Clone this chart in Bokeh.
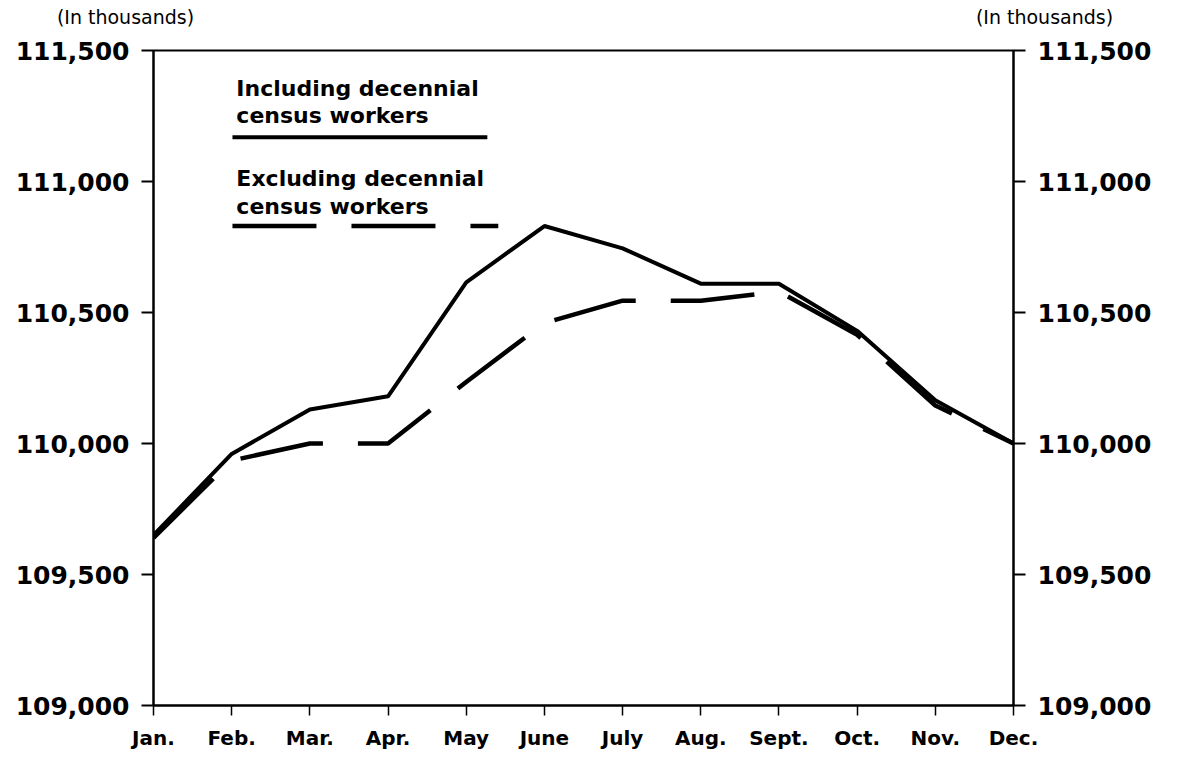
from bokeh.plotting import figure
from bokeh.models import (Range1d, LinearAxis, FixedTicker, NumeralTickFormatter, Label)
from bokeh.embed import file_html
from bokeh.resources import INLINE

months = ["Jan.", "Feb.", "Mar.", "Apr.", "May", "June", "July", "Aug.", "Sept.", "Oct.", "Nov.", "Dec."]
including = [109650, 109960, 110130, 110180, 110615, 110830, 110745, 110610, 110610, 110430, 110165, 110000]
excluding = [109640, 109935, 110000, 110000, 110235, 110460, 110545, 110545, 110580, 110415, 110145, 110000]
y_ticks = [109000, 109500, 110000, 110500, 111000, 111500]

x = list(range(len(months)))

W, H = 1165, 752
FL, FT, FR, FB = 153, 50, 1013, 707
p = figure(width=W, height=H, output_backend="svg", toolbar_location=None,
           x_range=Range1d(0, 11), y_range=Range1d(109000, 111500),
           x_axis_type=None, y_axis_type=None)
p.min_border = 0
p.min_border_left = FL
p.min_border_right = W - FR
p.min_border_top = FT
p.min_border_bottom = H - FB
p.xgrid.visible = False
p.ygrid.visible = False
p.outline_line_color = "black"
p.outline_line_width = 2
p.background_fill_color = "white"
p.border_fill_color = "white"

def style_y(ax):
    ax.ticker = FixedTicker(ticks=y_ticks)
    ax.formatter = NumeralTickFormatter(format="0,0")
    ax.major_label_text_font = "DejaVu Sans"
    ax.major_label_text_font_style = "bold"
    ax.major_label_text_font_size = "25px"
    ax.major_label_text_color = "black"
    ax.major_tick_out = 12
    ax.major_tick_in = 0
    ax.minor_tick_out = 0
    ax.minor_tick_in = 0
    ax.major_tick_line_width = 2
    ax.axis_line_width = 2
    ax.major_label_standoff = 12

yl = LinearAxis()
style_y(yl)
p.add_layout(yl, "left")
yr = LinearAxis()
style_y(yr)
p.add_layout(yr, "right")

xa = LinearAxis()
xa.ticker = FixedTicker(ticks=x)
xa.major_label_overrides = {i: m for i, m in zip(x, months)}
xa.major_label_text_font = "DejaVu Sans"
xa.major_label_text_font_style = "bold"
xa.major_label_text_font_size = "20px"
xa.major_label_text_color = "black"
xa.major_tick_out = 10
xa.major_tick_in = 0
xa.minor_tick_out = 0
xa.minor_tick_in = 0
xa.major_tick_line_width = 1.5
xa.axis_line_width = 2
xa.major_label_standoff = 10
p.add_layout(xa, "below")

p.line(x, including, line_color="black", line_width=4)
p.line(x, excluding, line_color="black", line_width=4.5, line_dash="84 35")

# legend
p.line([1.01, 4.27], [111169, 111169], line_color="black", line_width=4)
p.line([1.01, 4.41], [110830, 110830], line_color="black", line_width=4.5, line_dash="84 35")

lab_kw = dict(text_font="DejaVu Sans", text_font_style="bold", text_font_size="22px",
              text_color="black", text_baseline="alphabetic", text_align="left")
p.add_layout(Label(x=1.06, y=111355, text="Including decennial", **lab_kw))
p.add_layout(Label(x=1.06, y=111253, text="census workers", **lab_kw))
p.add_layout(Label(x=1.06, y=111013, text="Excluding decennial", **lab_kw))
p.add_layout(Label(x=1.06, y=110903, text="census workers", **lab_kw))

th_kw = dict(text_font="DejaVu Sans", text_font_size="19px", text_color="black",
             text_baseline="middle", text_align="center", x_units="screen", y_units="screen")
p.add_layout(Label(x=125 - FL, y=FT - 16, text="(In thousands)", **th_kw), "above")
p.add_layout(Label(x=1044 - FL, y=FT - 16 - 19 - 3, text="(In thousands)", **th_kw), "above")

open("out.html", "w").write(file_html(p, INLINE))
